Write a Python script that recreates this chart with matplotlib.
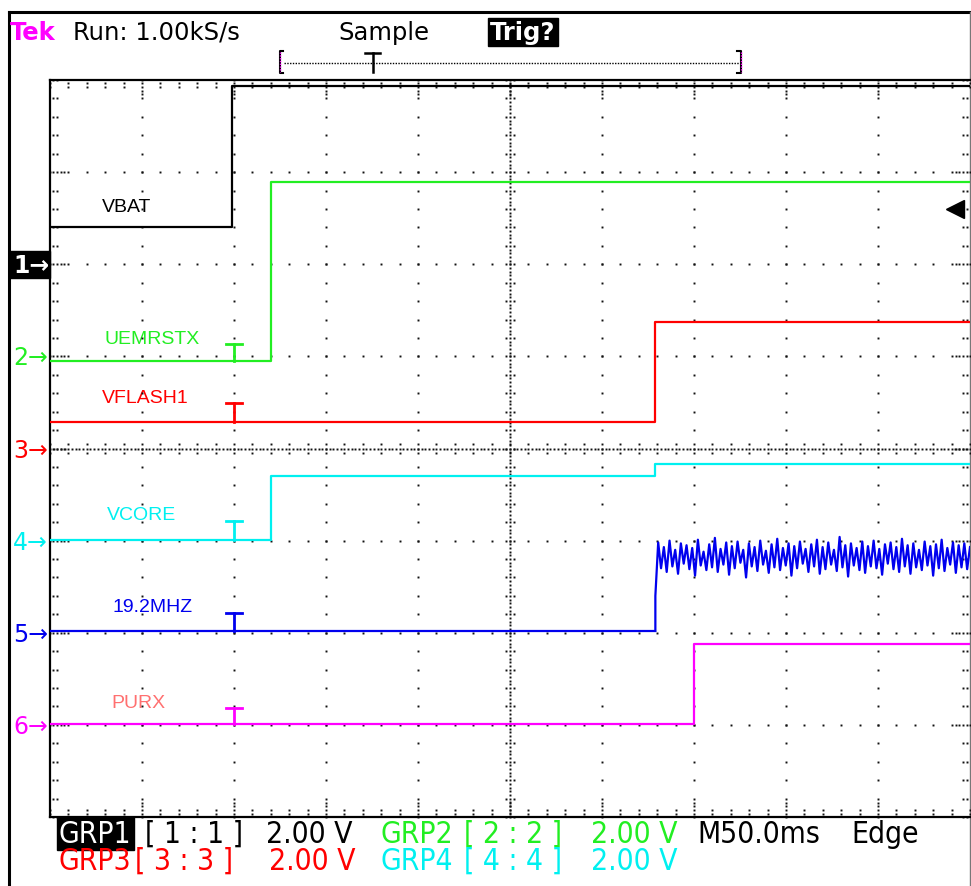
import numpy as np
import matplotlib
matplotlib.use("Agg")
import matplotlib.pyplot as plt
from matplotlib import font_manager

# ---- scope settings ----
MS_PER_DIV = 50.0
N_XDIV = 10
N_YDIV = 8
TRIGGER_MS = 100.0

# ---- traces: step breakpoints (ms) and levels (divisions from bottom) ----
CHANNELS = ["VBAT", "UEMRSTX", "VFLASH1", "VCORE", "19.2MHZ", "PURX"]
COLORS = ["#000000", "#22ee22", "#ff0000", "#00f0f0", "#0000ee", "#ff00ff"]
LABEL_COLORS = ["#000000", "#22ee22", "#ff0000", "#00f0f0", "#0000ee", "#ff7070"]
MARKER_LEVELS = [6, 5, 4, 3, 2, 1]

VBAT_T = [0, 99, 500]
VBAT_V = [6.40, 7.93, 7.93]
UEMRSTX_T = [0, 120, 500]
UEMRSTX_V = [4.95, 6.89, 6.89]
VFLASH1_T = [0, 329, 500]
VFLASH1_V = [4.29, 5.37, 5.37]
VCORE_T = [0, 120, 329, 500]
VCORE_V = [3.01, 3.70, 3.83, 3.83]
CLK_T = [0, 329]
CLK_V = [2.02, 2.02]
PURX_T = [0, 350, 500]
PURX_V = [1.01, 1.88, 1.88]

# 19.2 MHz aliased burst after enable (divisions)
CLK_BURST = [
    2.40, 2.98, 2.70, 2.93, 2.66, 3.00, 2.72, 2.90, 2.64, 2.97, 2.75, 2.95,
    2.69, 2.92, 2.62, 3.01, 2.73, 2.88, 2.68, 2.96, 2.71, 3.03, 2.66, 2.91,
    2.74, 2.98, 2.63, 2.94, 2.70, 2.99, 2.76, 2.90, 2.60, 2.97, 2.72, 2.93,
    2.67, 3.00, 2.74, 2.89, 2.65, 2.96, 2.71, 3.02, 2.68, 2.92, 2.73, 2.97,
    2.62, 2.94, 2.70, 2.99, 2.75, 2.91, 2.66, 2.96, 2.72, 3.01, 2.64, 2.93,
    2.69, 2.98, 2.74, 2.90, 2.67, 3.04, 2.71, 2.95, 2.61, 2.97, 2.73, 2.92,
    2.68, 2.99, 2.65, 2.94, 2.72, 3.00, 2.70, 2.91, 2.63, 2.96, 2.75, 2.98,
    2.69, 2.93, 2.66, 3.02, 2.72, 2.95, 2.64, 2.97, 2.71, 2.90, 2.68, 2.99,
    2.73, 2.94, 2.62, 2.96, 2.70, 3.01, 2.67, 2.92, 2.74, 2.98, 2.65, 2.95,
    2.71, 2.97, 2.69, 2.93,
]

TRIG_T_TOPS = [None, 5.13, 4.49, 3.21, 2.21, 1.18]
LABEL_POS = [(127, 208), (152, 340), (145, 399), (142, 516), (153, 608), (138, 704)]

# narrow face for the readout line, if one is installed
_fonts = font_manager.fontManager.ttflist
_names = {f.name for f in _fonts}
if any(f.name == "DejaVu Sans" and f.stretch == "condensed" for f in _fonts):
    NARROW = dict(family="DejaVu Sans", stretch="condensed")
elif "Liberation Sans Narrow" in _names:
    NARROW = dict(family="Liberation Sans Narrow")
else:
    NARROW = dict(family="DejaVu Sans")

W, H = 971, 887
fig = plt.figure(figsize=(W / 100, H / 100), dpi=100)
fig.patch.set_facecolor("white")

# overlay in pixel coordinates for the screen furniture
deco = fig.add_axes((0, 0, 1, 1))
deco.set_xlim(0, W)
deco.set_ylim(H, 0)
deco.axis("off")

ax = fig.add_axes((50 / W, (H - 818) / H, 920 / W, 737 / H))
ax.set_xlim(0, N_XDIV * MS_PER_DIV)
ax.set_ylim(0, N_YDIV)
ax.axis("off")

DOT = dict(marker="s", ms=1.4, mew=0, color="#111111", ls="none", clip_on=False)


def dots(xd, yd):
    ax.plot(np.asarray(xd) * MS_PER_DIV, yd, **DOT)


# ---- graticule ----
xm = np.arange(0, N_XDIV + 0.01, 0.2)
ym = np.arange(0, N_YDIV + 0.01, 0.2)
for gx in range(1, N_XDIV):
    if gx != 5:
        dots(np.full_like(ym, gx), ym)
for gy in range(1, N_YDIV):
    if gy != 4:
        dots(xm, np.full_like(xm, gy))
# center cross: fine dotted line with minor ticks
xf = np.arange(0, N_XDIV + 0.001, 0.04)
yf = np.arange(0, N_YDIV + 0.001, 0.04)
dots(xf, np.full_like(xf, 4))
dots(np.full_like(yf, 5), yf)
for off in (-0.045, 0.045):
    dots(xm, np.full_like(xm, 4 + off))
    dots(np.full_like(ym, 5 + off), ym)
# edge ticks
for off in (0.035, 0.075):
    dots(np.full_like(ym, off), ym)
    dots(np.full_like(ym, N_XDIV - off), ym)
    dots(xm, np.full_like(xm, off))
    dots(xm, np.full_like(xm, N_YDIV - off))
xmaj = np.arange(1, N_XDIV)
ymaj = np.arange(1, N_YDIV)
for off in (0.115, 0.155):
    dots(xmaj, np.full(len(xmaj), off))
    dots(xmaj, np.full(len(xmaj), N_YDIV - off))
    dots(np.full(len(ymaj), off), ymaj)
    dots(np.full(len(ymaj), N_XDIV - off), ymaj)

# graticule border
ax.plot([0, 0], [0, N_YDIV], color="black", lw=1.6, clip_on=False)
ax.plot([0, 500], [N_YDIV, N_YDIV], color="black", lw=1.6, clip_on=False)
ax.plot([0, 500], [0, 0], color="black", lw=1.6, clip_on=False)

# ---- traces ----
series = [
    (VBAT_T, VBAT_V), (UEMRSTX_T, UEMRSTX_V), (VFLASH1_T, VFLASH1_V),
    (VCORE_T, VCORE_V), (CLK_T, CLK_V), (PURX_T, PURX_V),
]
for (t, v), c in zip(series, COLORS):
    ax.plot(t, v, drawstyle="steps-post", color=c, lw=1.6, zorder=3)

burst_t = np.linspace(CLK_T[-1], 500, len(CLK_BURST))
ax.plot(np.r_[CLK_T[-1], burst_t], np.r_[CLK_V[-1], CLK_BURST], color=COLORS[4], lw=1.6, zorder=3)

# trigger position "T" markers on each trace
half = 4.3
for (t, v), c, top in zip(series, COLORS, TRIG_T_TOPS):
    if top is None:
        continue
    ax.plot([TRIGGER_MS - half, TRIGGER_MS + half], [top, top], color=c, lw=2, zorder=4)
    ax.plot([TRIGGER_MS, TRIGGER_MS], [top, v[0]], color=c, lw=2, zorder=4)

# trigger level marker (right edge)
ax.plot([492], [6.6], marker="<", ms=13, color="black", ls="none", zorder=4)

# trace labels
for name, (px, py), c in zip(CHANNELS, LABEL_POS, LABEL_COLORS):
    deco.text(px, py, name, color=c, fontsize=14, family="Liberation Sans",
              ha="center", va="center")

# channel ground markers
for i, (lvl, c) in enumerate(zip(MARKER_LEVELS, COLORS)):
    py = 818 - lvl * 92.1
    if i == 0:
        deco.add_patch(plt.Rectangle((10, py - 13), 40, 27, color="black"))
        deco.text(13, py + 1, "1→", color="white", fontsize=17, va="center", ha="left", weight="bold")
    else:
        deco.text(13, py + 1, f"{i + 1}→", color=c, fontsize=17, va="center", ha="left")

# ---- outer screen frame ----
deco.plot([8.5, 8.5], [13, H], color="black", lw=2.2)
deco.plot([8.5, W], [13, 13], color="black", lw=2.2)
deco.plot([969.5, 969.5], [13, H], color="#777777", lw=1)

# ---- header ----
hdr = dict(fontsize=17.5, va="baseline", ha="left", family="DejaVu Sans")
deco.text(10, 40, "Tek", color="#ff00ff", weight="bold", **hdr)
deco.text(73, 40, "Run: 1.00kS/s", color="black", **hdr)
deco.text(338, 40, "Sample", color="black", **hdr)
deco.text(490, 40, "Trig?", color="white", weight="bold",
          bbox=dict(boxstyle="square,pad=0.1", fc="black", ec="black"), **hdr)

# trigger position bar
deco.plot([284, 740], [64, 64], color="black", lw=1, ls=(0, (1, 1)))
deco.plot([283, 280, 280, 283], [52, 52, 74, 74], color="black", lw=1.5)
deco.plot([280, 280], [53, 73], color="#ff00ff", lw=1, ls=(0, (1, 1)))
deco.plot([737, 741, 741, 737], [52, 52, 74, 74], color="black", lw=1.5)
deco.plot([741, 741], [53, 73], color="#ff00ff", lw=1, ls=(0, (1, 1)))
deco.plot([365, 380], [54, 54], color="black", lw=1.8)
deco.plot([372.5, 372.5], [54, 73], color="black", lw=1.8)

# ---- footer ----
ftr = dict(fontsize=21.5, va="baseline", ha="left", **NARROW)
GRN, RED, CYN = "#22ee22", "#ff0000", "#00f0f0"
row1 = [(145, "[ 1 : 1 ]", "black"), (266, "2.00 V", "black"),
        (381, "GRP2", GRN), (464, "[ 2 : 2 ]", GRN), (591, "2.00 V", GRN),
        (697, "M50.0ms", "black"), (851, "Edge", "black")]
row2 = [(59, "GRP3", RED), (135, "[ 3 : 3 ]", RED), (269, "2.00 V", RED),
        (381, "GRP4", CYN), (464, "[ 4 : 4 ]", CYN), (591, "2.00 V", CYN)]
deco.text(59, 843, "GRP1", color="white",
          bbox=dict(boxstyle="square,pad=0.08", fc="black", ec="black"), **ftr)
for x, s, c in row1:
    deco.text(x, 843, s, color=c, **ftr)
for x, s, c in row2:
    deco.text(x, 870, s, color=c, **ftr)

fig.savefig("out.png", dpi=100)
